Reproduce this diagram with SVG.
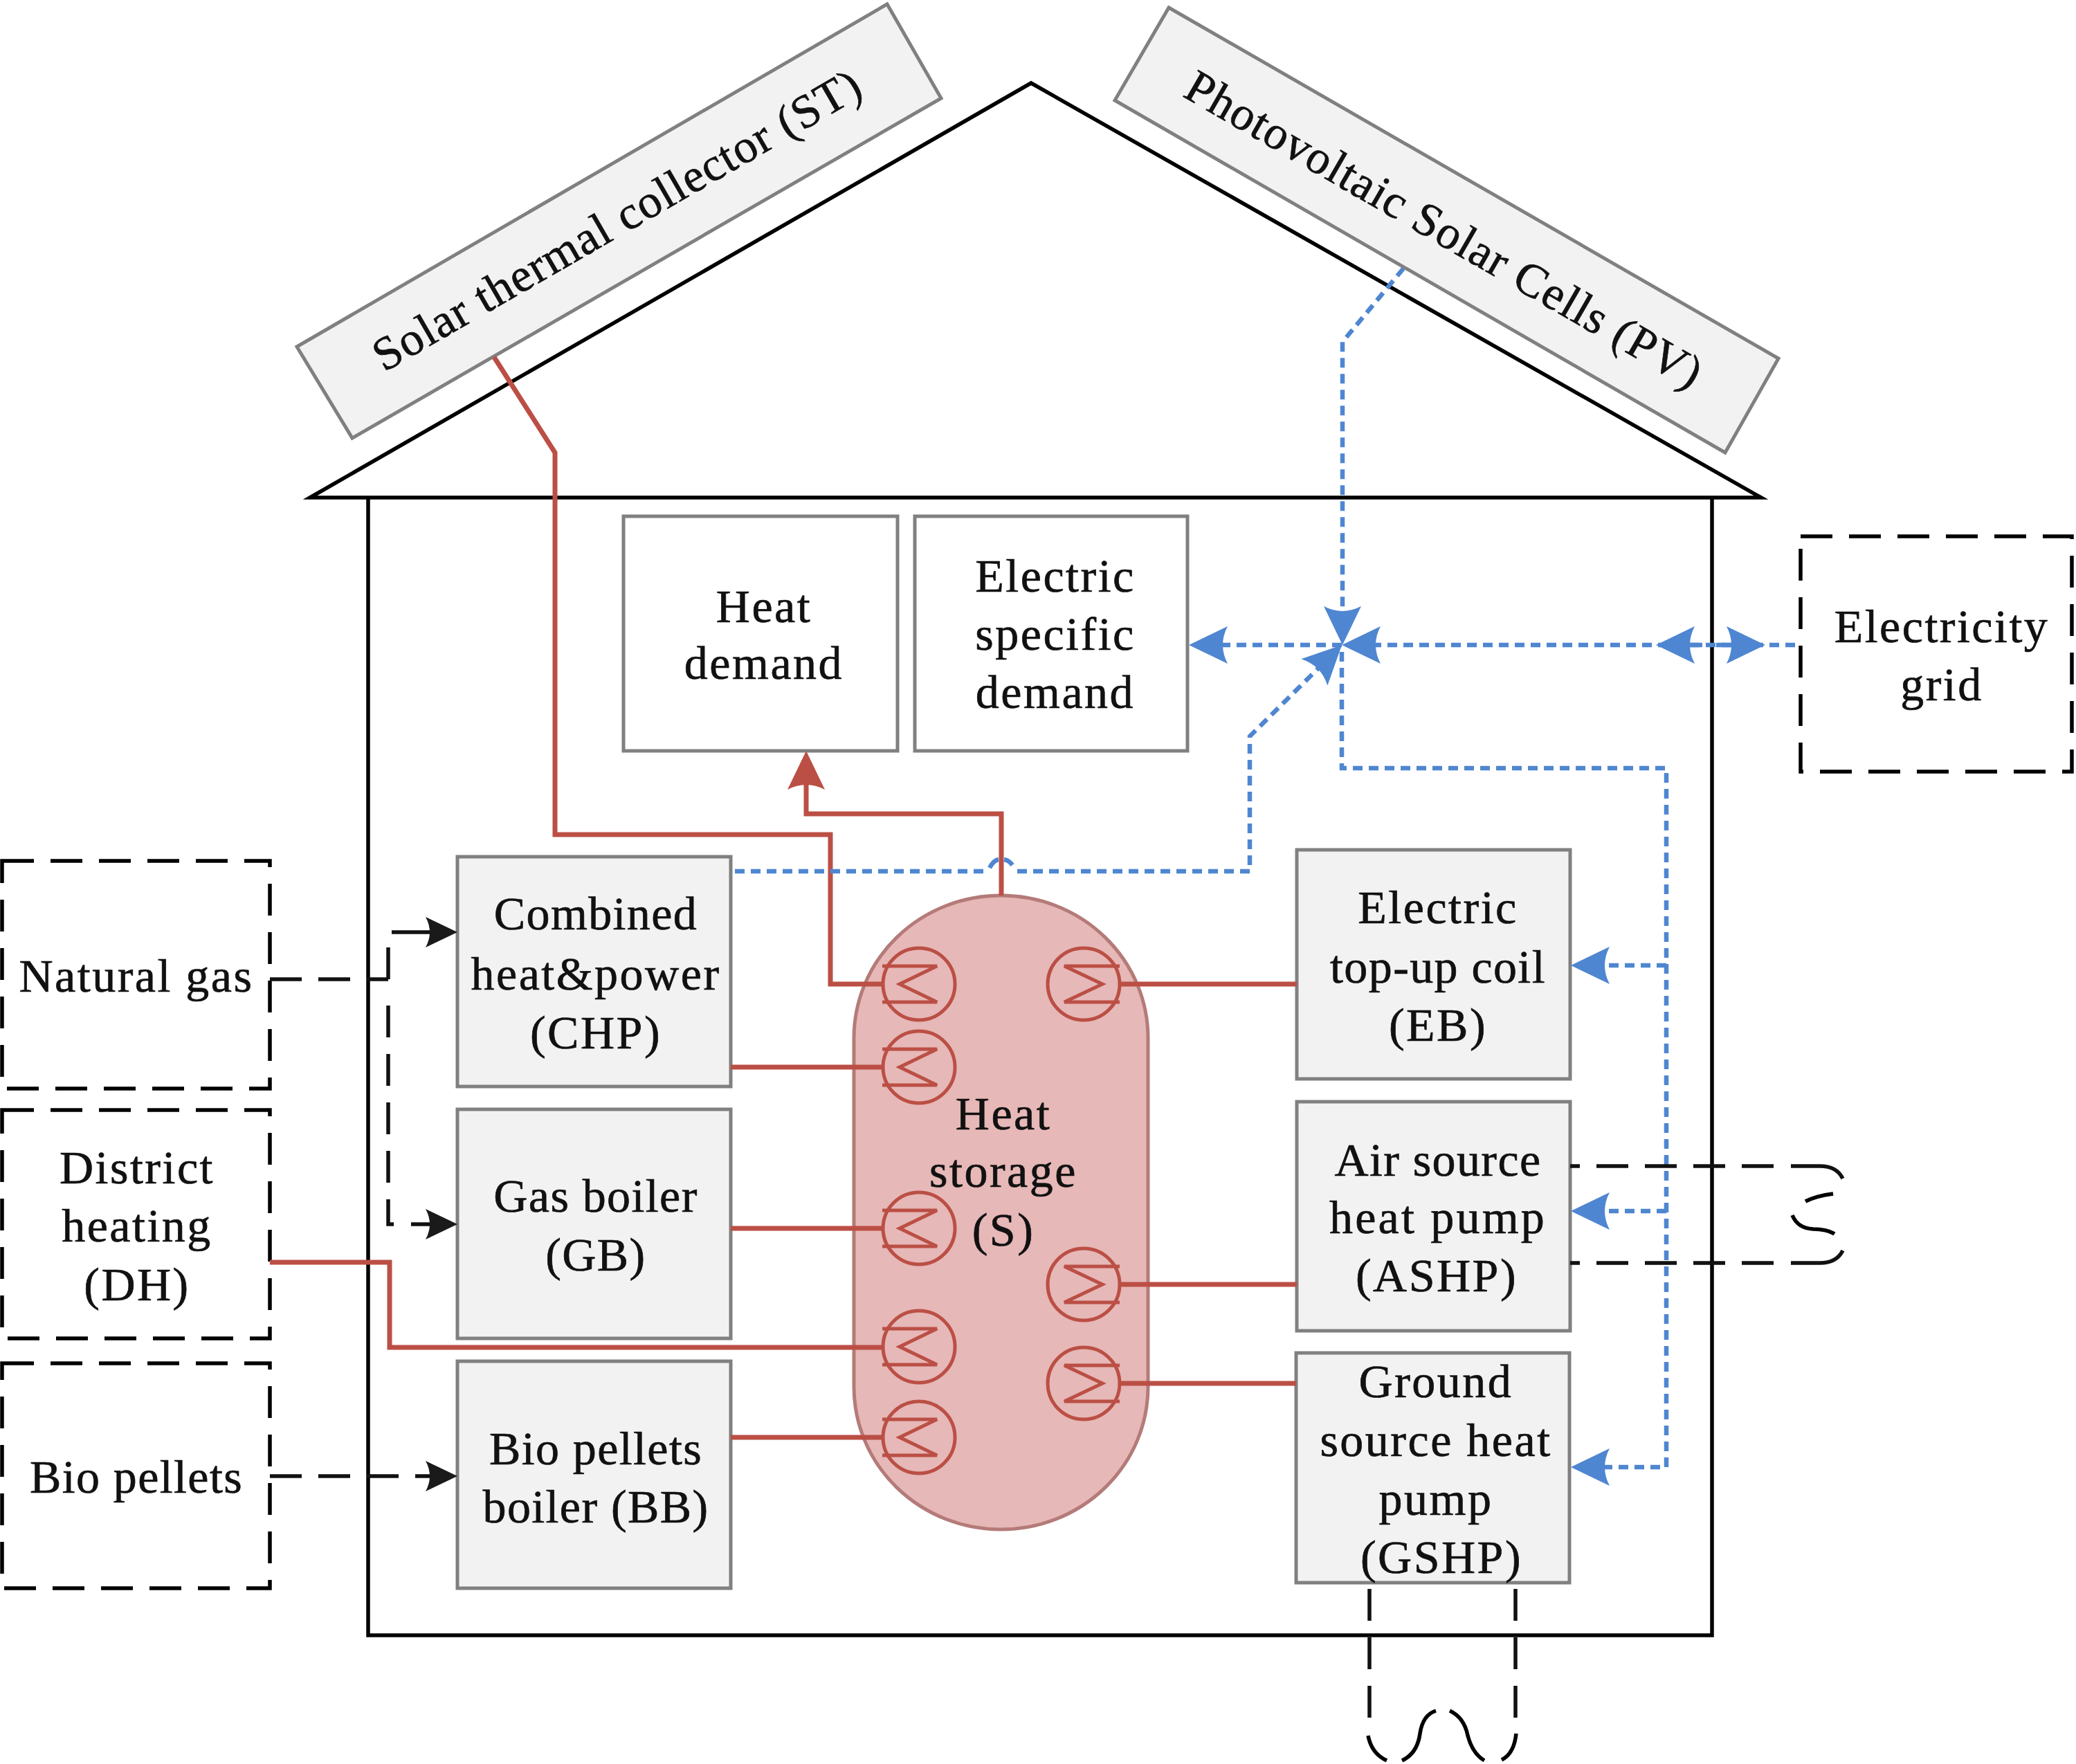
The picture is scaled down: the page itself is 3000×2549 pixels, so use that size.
<svg xmlns="http://www.w3.org/2000/svg" xmlns:xlink="http://www.w3.org/1999/xlink" width="3000" height="2549" viewBox="0 0 3000 2549">
<style>
text{font-family:"Liberation Serif","Times New Roman",serif;font-size:68px;letter-spacing:2.5px;fill:#111;stroke:#111;stroke-width:.7;text-anchor:middle}
.t{letter-spacing:1.4px}
.box{fill:#f2f2f2;stroke:#808080;stroke-width:5}
.white{fill:#fff;stroke:#808080;stroke-width:5}
.ext{fill:none;stroke:#000;stroke-width:5.5;stroke-dasharray:46 24}
.black{fill:none;stroke:#000;stroke-width:5.5}
.dash{fill:none;stroke:#111;stroke-width:5.5;stroke-dasharray:46 24}
.solid{fill:none;stroke:#111;stroke-width:5.5}
.red{fill:none;stroke:#bb4f45;stroke-width:7}
.blue{fill:none;stroke:#4f86d1;stroke-width:6.5;stroke-dasharray:14 9}
.bs{fill:none;stroke:#4f86d1;stroke-width:6.5}
.coil{fill:none;stroke:#bb4f45;stroke-width:5}
</style>
<defs>
<marker id="ab" markerUnits="userSpaceOnUse" viewBox="0 0 56 54" markerWidth="56" markerHeight="54" refX="46" refY="27" orient="auto"><path d="M56 27L0 0Q14 27 0 54Z" fill="#4f86d1"/></marker>
<marker id="ar" markerUnits="userSpaceOnUse" viewBox="0 0 56 54" markerWidth="56" markerHeight="54" refX="46" refY="27" orient="auto"><path d="M56 27L0 0Q14 27 0 54Z" fill="#bb4f45"/></marker>
<marker id="ak" markerUnits="userSpaceOnUse" viewBox="0 0 46 44" markerWidth="46" markerHeight="44" refX="36" refY="22" orient="auto"><path d="M46 22L0 0Q12 22 0 44Z" fill="#1a1a1a"/></marker>
<g id="coilL"><circle cx="0" cy="0" r="52"/><path d="M-53 -26H26L-28 0L26 26H-53"/></g>
<g id="coilR"><circle cx="0" cy="0" r="52"/><path d="M52 -26H-28L27 0L-28 26H52"/></g>
</defs>

<g id="house">
<path class="black" d="M532 720V2363H2474V720"/>
<path class="black" d="M448 719L1490 120L2545 719Z"/>
</g>

<g id="solar-thermal"><polygon class="box" points="429,501 1282,6 1360,142 509,633"/>
<text class="t" transform="translate(893 320) rotate(-30)" x="0" y="20">Solar thermal collector (ST)</text></g>
<g id="pv"><polygon class="box" points="1689,11 2570,518 2493,654 1611,145"/>
<text class="t" transform="translate(2086 334) rotate(30)" x="0" y="20">Photovoltaic Solar Cells (PV)</text></g>

<g id="heat-storage"><rect x="1234" y="1294" width="425" height="916" rx="212" ry="206" fill="#e6b8b7" stroke="#b47b78" stroke-width="5"/>
<text x="1450" y="1632">Heat</text><text x="1450" y="1715">storage</text><text x="1450" y="1800">(S)</text></g>

<g id="coils" class="coil">
<use xlink:href="#coilL" href="#coilL" x="1328" y="1422"/>
<use xlink:href="#coilL" href="#coilL" x="1328" y="1542"/>
<use xlink:href="#coilL" href="#coilL" x="1328" y="1775"/>
<use xlink:href="#coilL" href="#coilL" x="1328" y="1946"/>
<use xlink:href="#coilL" href="#coilL" x="1328" y="2077"/>
<use xlink:href="#coilR" href="#coilR" x="1566" y="1422"/>
<use xlink:href="#coilR" href="#coilR" x="1566" y="1856"/>
<use xlink:href="#coilR" href="#coilR" x="1566" y="1999"/>
</g>

<g id="heat-demand"><rect class="white" x="901" y="746" width="396" height="339"/>
<text x="1104" y="899">Heat</text><text x="1104" y="981">demand</text></g>
<g id="electric-demand"><rect class="white" x="1322" y="746" width="394" height="339"/>
<text x="1525" y="855">Electric</text><text x="1525" y="939">specific</text><text x="1525" y="1023">demand</text></g>
<g id="electricity-grid"><rect class="ext" x="2602" y="775" width="392" height="340"/>
<text x="2806" y="928">Electricity</text><text x="2806" y="1012">grid</text></g>

<g id="natural-gas"><rect class="ext" x="3" y="1244" width="387" height="329"/><text x="197" y="1433">Natural gas</text></g>
<g id="district-heating"><rect class="ext" x="3" y="1604" width="387" height="330"/>
<text x="198" y="1710">District</text><text x="198" y="1794">heating</text><text x="198" y="1879">(DH)</text></g>
<g id="bio-pellets"><rect class="ext" x="3" y="1970" width="387" height="325"/><text class="t" x="197" y="2157">Bio pellets</text></g>

<g id="chp"><rect class="box" x="661" y="1238" width="395" height="332"/>
<text class="t" x="861" y="1343">Combined</text><text x="861" y="1430">heat&amp;power</text><text x="861" y="1515">(CHP)</text></g>
<g id="gb"><rect class="box" x="661" y="1603" width="395" height="331"/>
<text class="t" x="861" y="1751">Gas boiler</text><text class="t" x="861" y="1836">(GB)</text></g>
<g id="bb"><rect class="box" x="661" y="1967" width="395" height="328"/>
<text class="t" x="861" y="2116">Bio pellets</text><text class="t" x="861" y="2200">boiler (BB)</text></g>
<g id="eb"><rect class="box" x="1874" y="1228" width="395" height="331"/>
<text x="2078" y="1334">Electric</text><text class="t" x="2078" y="1420">top-up coil</text><text x="2078" y="1504">(EB)</text></g>
<g id="ashp"><rect class="box" x="1874" y="1592" width="395" height="331"/>
<text class="t" x="2078" y="1699">Air source</text><text style="letter-spacing:3.2px" x="2078" y="1782">heat pump</text><text x="2076" y="1866">(ASHP)</text></g>
<g id="gshp"><rect class="box" x="1873" y="1955" width="395" height="332"/>
<text x="2075" y="2019">Ground</text><text x="2075" y="2104">source heat</text><text x="2075" y="2189">pump</text><text x="2083" y="2273">(GSHP)</text></g>

<g id="connectors">
<path class="red" d="M714 516L802 654V1206H1200V1422H1275"/>
<path class="red" d="M1447 1294V1176H1165V1095" marker-end="url(#ar)"/>
<path class="red" d="M1056 1542H1275"/>
<path class="red" d="M1056 1775H1275"/>
<path class="red" d="M390 1824H563V1947H1275"/>
<path class="red" d="M1056 2077H1275"/>
<path class="red" d="M1618 1422H1874"/>
<path class="red" d="M1618 1856H1874"/>
<path class="red" d="M1618 1999H1873"/>

<path class="blue" d="M1062 1259H1425"/>
<path class="bs" d="M1430 1254Q1436 1243 1443 1242"/>
<path class="bs" d="M1451 1242Q1458 1243 1463 1250"/>
<path class="blue" d="M1470 1259H1806V1064L1932 939" marker-end="url(#ab)"/>
<path class="blue" d="M2028 388L1940 494V922" marker-end="url(#ab)"/>
<path class="blue" d="M1939 932H1728" marker-end="url(#ab)"/>
<path class="blue" d="M2594 932H1949" marker-end="url(#ab)"/>
<path class="bs" d="M2460 932H2403" marker-end="url(#ab)"/>
<path class="bs" d="M2480 932H2541" marker-end="url(#ab)"/>
<path class="blue" d="M1939 942V1110H2408V2120H2280" marker-end="url(#ab)"/>
<path class="blue" d="M2408 1395H2280" marker-end="url(#ab)"/>
<path class="blue" d="M2408 1750H2280" marker-end="url(#ab)"/>

<path class="dash" d="M390 1415H561"/>
<path class="solid" d="M561 1369V1415"/>
<path class="solid" d="M566 1347H651" marker-end="url(#ak)"/>
<path class="dash" d="M561 1453V1769H569"/>
<path class="solid" d="M594 1769H651" marker-end="url(#ak)"/>
<path class="dash" d="M390 2133H651" marker-end="url(#ak)"/>

<path class="dash" d="M2269 1685H2575" stroke-dashoffset="32"/>
<path class="solid" d="M2588 1685H2630Q2654 1685 2663 1703"/>
<path class="dash" d="M2269 1825H2575" stroke-dashoffset="32"/>
<path class="solid" d="M2588 1825H2630Q2654 1825 2663 1807"/>
<path class="black" d="M2609 1736Q2625 1728 2649 1725"/>
<path class="black" d="M2590 1756Q2598 1775 2620 1776Q2640 1776 2651 1783"/>
<path class="dash" d="M1979 2296V2484"/>
<path class="dash" d="M2190 2296V2484"/>
<path class="black" d="M1977 2508Q1982 2534 2004 2544"/>
<path class="black" d="M2026 2544Q2048 2534 2052 2505Q2056 2478 2075 2472"/>
<path class="black" d="M2095 2472Q2116 2482 2121 2508Q2128 2534 2145 2544"/>
<path class="black" d="M2170 2543Q2188 2534 2191 2505"/>
</g>
</svg>
